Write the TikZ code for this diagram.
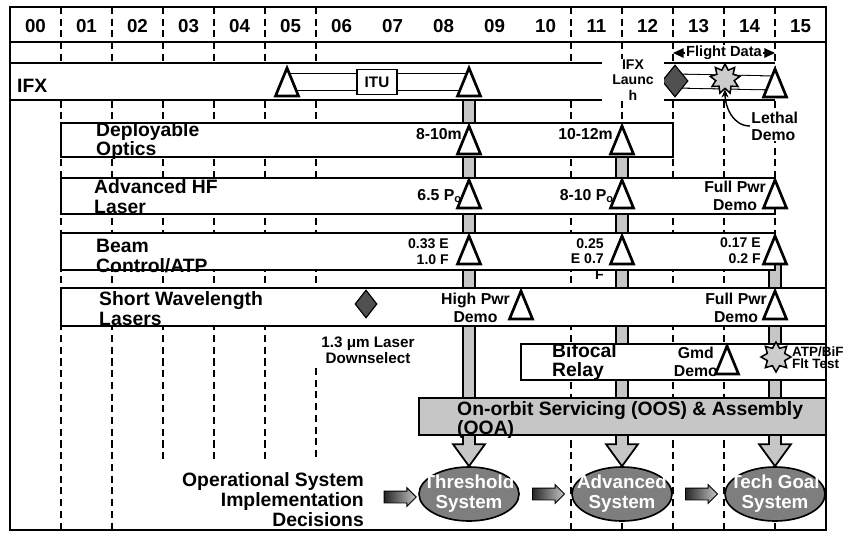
\documentclass[tikz,border=0pt]{standalone}
\usepackage{fontspec}
\setmainfont{Liberation Sans}
\usetikzlibrary{arrows.meta, calc, shapes.geometric, shapes.arrows}
\definecolor{cTrama}{HTML}{C6C6C6}
\definecolor{cOscuro}{HTML}{505050}
\definecolor{cElipse}{HTML}{7E7E7E}
\tikzset{
    x=0.03cm, y=-0.03cm, font=\bfseries,
    marco/.style={draw=black, line width=1.3pt},
    caja/.style={draw=black, line width=1pt, fill=white},
    corte/.style={draw=black, line width=1.1pt, dash pattern=on 6pt off 4pt},
    barra/.style={draw=black, line width=1.5pt, fill=cTrama, line join=miter},
    oos/.style={draw=black, line width=1pt, fill=cTrama},
    tri/.style={draw=black, line width=2.3pt, fill=white, line join=miter},
    doble/.style={draw=black, line width=0.9pt, double=white, double distance=14pt},
    anio/.style={font=\fontsize{16}{17}\bfseries, inner sep=0pt},
    fila/.style={font=\fontsize{16.5}{17}\bfseries, inner sep=0pt, align=left, anchor=west},
    lbl/.style={font=\fontsize{13.5}{15}\bfseries, inner sep=0pt, align=center, anchor=east},
    lblp/.style={font=\fontsize{12}{13.5}\bfseries, inner sep=0pt, align=right, anchor=east},
    rombo/.style={diamond, draw=black, line width=1pt, fill=cOscuro, inner sep=0pt},
    estrella/.style={star, star points=9, star point ratio=1.6, draw=black,
                     line width=1.3pt, fill=gray!40, inner sep=0pt, minimum size=0.9cm},
    sistema/.style={ellipse, draw=black, line width=1.4pt, fill=cElipse,
                    minimum width=3cm, minimum height=1.62cm, inner sep=0pt},
    sistxt/.style={font=\fontsize{16}{17}\bfseries, text=white, align=center, inner sep=0pt},
    paso/.style={single arrow, draw=black, line width=0.8pt, left color=black!85,
                 right color=cTrama, minimum height=0.96cm, inner sep=0.165cm,
                 single arrow head extend=0.1cm},
}
\newcommand{\hito}[1]{%
    \draw[tri] ($(#1)+(0,-14)$) -- ($(#1)+(11.5,14)$) -- ($(#1)+(-11.5,14)$) -- cycle;}
\newcommand{\flecha}[2]{%
    \draw[barra] ($(#1)+(-6,0)$) -- ($(#2)+(-6,-22)$) -- ($(#2)+(-16,-22)$) -- (#2)
        -- ($(#2)+(16,-22)$) -- ($(#2)+(6,-22)$) -- ($(#1)+(6,0)$) -- cycle;}

\begin{document}
\begin{tikzpicture}
    \useasboundingbox (0,0) rectangle (848,535);

    \coordinate (ifx1) at (287,82);
    \coordinate (ifx2) at (469,82);
    \coordinate (ifx3) at (775,83);
    \coordinate (lz) at (675,81);
    \coordinate (do1) at (469,140);
    \coordinate (do2) at (622,140);
    \coordinate (hf1) at (469,194);
    \coordinate (hf2) at (622,194);
    \coordinate (hf3) at (775,194);
    \coordinate (bc1) at (469,250);
    \coordinate (bc2) at (622,250);
    \coordinate (bc3) at (775,250);
    \coordinate (sw1) at (521,305);
    \coordinate (sw2) at (775,305);
    \coordinate (bf1) at (727,360);

    \foreach \k/\fin in {1/530,2/530,3/460,4/460,5/460,11/530,12/530,13/530,14/530,15/530}
        \draw[corte] ({10+51*\k},7) -- ({10+51*\k},\fin);
    \draw[corte] (316,7) -- (316,326) (316,368) -- (316,460);

    \node[sistema] (thr) at (469,494) {};
    \node[sistema] (adv) at (622,494) {};
    \node[sistema] (tec) at (775,494) {};

    % las tres lineas gruesas bajan hasta los sistemas
    \flecha{ifx2}{thr.north}
    \flecha{do2}{adv.north}
    \flecha{bc3}{tec.north}

    \fill[white] (10,63) rectangle (775,100);
    \draw[caja] (10,63) -- (775,63) (10,100) -- (775,100);
    \draw[caja] (61,123) rectangle (673,157);
    \draw[caja] (61,178) rectangle (775,214);
    \draw[caja] (61,233) rectangle (775,270);
    \draw[caja] (61,288) rectangle (826,326);
    \draw[caja] (521,344) rectangle (826,380);
    \draw[oos] (419,398) rectangle (826,435);

    \draw[marco] (10,7) rectangle (826,530);
    \draw[marco] (10,42) -- (826,42);
    \foreach \a [count=\i from 0] in {00,01,02,03,04,05,06,07,08,09,10,11,12,13,14,15}
        \node[anio] (a\a) at ({35.5+51*\i},26) {\a};

    \node[draw=black, line width=0.9pt, fill=white, minimum width=1.2cm, minimum height=0.75cm,
          font=\fontsize{13}{13}\bfseries] (itu) at (377,82) {ITU};
    \draw[doble] (ifx1) -- (itu);
    \draw[doble] (itu) -- (ifx2);
    \draw[doble, double distance=11pt] (lz) -- (ifx3);
    \node[rombo, minimum width=0.78cm, minimum height=0.96cm] (difx) at (lz) {};
    \node[estrella] (lds) at (725,79) {};
    \node[fill=white, inner sep=1pt, minimum width=1.85cm, align=center,
          font=\fontsize{12}{13}\bfseries] (lanz) at (633,80) {IFX\\Launc\\h};

    \coordinate (fdA) at (673,53);
    \coordinate (fdB) at (775,53);
    \draw[line width=1.2pt, {Triangle[length=9pt,width=8pt]}-{Triangle[length=9pt,width=8pt]}]
        (fdA) -- (fdB);
    \node[fill=white, inner sep=1pt, font=\fontsize{12.5}{13}\bfseries] (fd)
        at ($(fdA)!0.5!(fdB)$) {Flight Data};

    \node[fill=white, inner sep=1pt, align=left, anchor=west,
          font=\fontsize{13.5}{14.5}\bfseries] (let) at (750,126) {Lethal\\Demo};
    \draw[line width=1.2pt, -{Stealth[length=7pt,width=6pt]}]
        (let.west) to[out=180, in=-90] (lds.south);

    \hito{ifx1} \hito{ifx2} \hito{ifx3}
    \hito{do1} \hito{do2}
    \hito{hf1} \hito{hf2} \hito{hf3}
    \hito{bc1} \hito{bc2} \hito{bc3}
    \hito{sw1} \hito{sw2}
    \hito{bf1}

    \node[rombo, minimum width=0.66cm, minimum height=0.84cm] (dsw) at (366,304) {};
    \node[estrella, star points=8] (bfs) at (776,357) {};

    \node[lbl] (lDO1) at ($(do1)+(-7,-6)$) {8-10m};
    \node[lbl] (lDO2) at ($(do2)+(-9,-6)$) {10-12m};
    \node[lbl] (lHF1) at ($(hf1)+(-7,2)$) {6.5 P\textsubscript{o}};
    \node[lbl] (lHF2) at ($(hf2)+(-8,2)$) {8-10 P\textsubscript{o}};
    \node[lbl] (lHF3) at ($(hf3)+(-9,2)$) {Full Pwr\\Demo};
    \node[lblp] (lBC1) at ($(bc1)+(-20,2)$) {0.33 E\\1.0 F};
    \node[lblp] (lBC2) at ($(bc2)+(-18,9)$) {0.25\\E 0.7\\F};
    \node[lblp] (lBC3) at ($(bc3)+(-14,1)$) {0.17 E\\0.2 F};
    \node[lbl] (lSW1) at ($(sw1)+(-11,3)$) {High Pwr\\Demo};
    \node[lbl] (lSW2) at ($(sw2)+(-8,3)$) {Full Pwr\\Demo};
    \node[lbl] (lBF1) at ($(bf1)+(-9,2)$) {Gmd\\Demo};
    \node[font=\fontsize{13}{14}\bfseries, align=center, inner sep=0pt] (nDS)
        at (368,350) {1.3 μm Laser\\Downselect};
    \node[font=\fontsize{11.5}{10.5}\bfseries, align=left, anchor=west, inner sep=0pt] (nATP)
        at (792,358) {ATP/BiF\\Flt Test};

    \node[fila] (nIFX) at (17,86) {IFX};
    \node[fila] (nDO) at (96,141) {Deployable\\Optics};
    \node[fila] (nHF) at (94,197) {Advanced HF\\Laser};
    \node[fila] (nBC) at (96,256) {Beam\\Control/ATP};
    \node[fila] (nSW) at (99,309) {Short Wavelength\\Lasers};
    \node[fila] (nBF) at (552,362) {Bifocal\\Relay};
    \node[fila, font=\fontsize{16.5}{14}\bfseries] (nOOS) at (457,420)
        {On-orbit Servicing (OOS) \& Assembly\\(OOA)};
    \node[fila, align=right, anchor=east] (nDec) at (364,500)
        {Operational System\\Implementation\\Decisions};

    \node[sistxt] (tThr) at (thr) {Threshold\\System};
    \node[sistxt] (tAdv) at (adv) {Advanced\\System};
    \node[sistxt] (tTec) at (tec) {Tech Goal\\System};

    \node[paso] (p1) at ($(thr.west)+(-21,3)$) {};
    \node[paso] (p2) at ($(thr.east)!0.5!(adv.west)$) {};
    \node[paso] (p3) at ($(adv.east)!0.5!(tec.west)$) {};
\end{tikzpicture}
\end{document}
